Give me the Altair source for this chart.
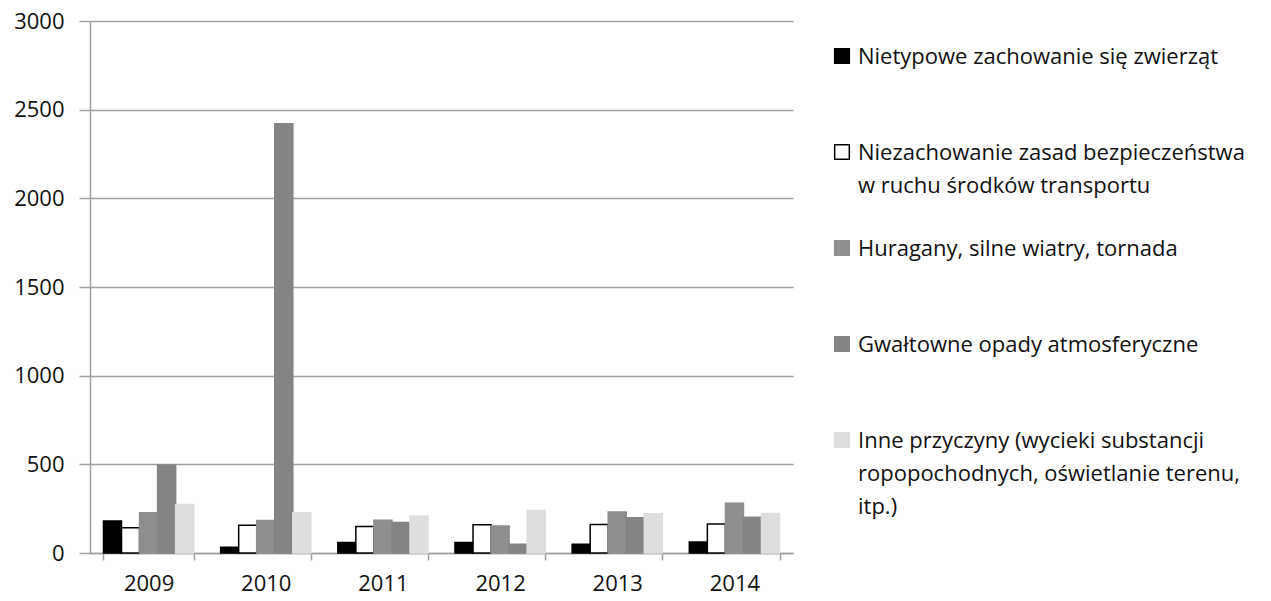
import altair as alt
import pandas as pd

years = ["2009", "2010", "2011", "2012", "2013", "2014"]
categories = [
    "Nietypowe zachowanie się zwierząt",
    "Niezachowanie zasad bezpieczeństwa w ruchu środków transportu",
    "Huragany, silne wiatry, tornada",
    "Gwałtowne opady atmosferyczne",
    "Inne przyczyny (wycieki substancji ropopochodnych, oświetlanie terenu, itp.)",
]
legend_text = [
    "Nietypowe zachowanie się zwierząt",
    "Niezachowanie zasad bezpieczeństwa|w ruchu środków transportu",
    "Huragany, silne wiatry, tornada",
    "Gwałtowne opady atmosferyczne",
    "Inne przyczyny (wycieki substancji|ropopochodnych, oświetlanie terenu,|itp.)",
]
zwierzeta = [181, 32, 59, 59, 49, 62]
transport = [143, 156, 149, 159, 161, 163]
huragany = [227, 183, 185, 152, 231, 280]
opady = [496, 2420, 172, 49, 199, 201]
inne = [273, 227, 208, 240, 222, 223]
series = [zwierzeta, transport, huragany, opady, inne]

fills = ["#000000", "#ffffff", "#8e8e8e", "#848484", "#dedede"]
strokes = ["#000000", "#000000", "#8e8e8e", "#848484", "#dedede"]

rows = []
for cat, vals in zip(categories, series):
    for yr, v in zip(years, vals):
        rows.append({"year": yr, "cat": cat, "value": v})
df = pd.DataFrame(rows)
leg_df = pd.DataFrame({"cat": categories, "label": legend_text})

FONT = "Open Sans"
GRID = "#a0a0a0"
TXT = "#111111"

color_enc = alt.Color("cat:N", sort=categories,
                      scale=alt.Scale(domain=categories, range=fills), legend=None)
stroke_enc = alt.Stroke("cat:N", sort=categories,
                        scale=alt.Scale(domain=categories, range=strokes), legend=None)

bars = alt.Chart(df).mark_bar(strokeWidth=1.5).encode(
    x=alt.X("year:N", sort=years, title=None,
            scale=alt.Scale(paddingInner=0.23, paddingOuter=0.115),
            axis=alt.Axis(labelAngle=0, tickBand="extent", tickSize=7,
                          tickColor=GRID, tickWidth=1.5, domainColor=GRID,
                          domainWidth=1.5, labelFont=FONT, labelFontSize=22,
                          labelColor=TXT, labelPadding=13, grid=False)),
    xOffset=alt.XOffset("cat:N", sort=categories,
                        scale=alt.Scale(paddingInner=0, paddingOuter=0)),
    y=alt.Y("value:Q", title=None,
            scale=alt.Scale(domain=[0, 3000], nice=False),
            axis=alt.Axis(values=[0, 500, 1000, 1500, 2000, 2500, 3000],
                          format="d",
                          grid=True, gridColor=GRID, gridWidth=1.5,
                          domainColor=GRID, domainWidth=1.5,
                          tickColor=GRID, tickWidth=1.5, tickSize=11,
                          labelPadding=15, labelFont=FONT, labelFontSize=22,
                          labelColor=TXT)),
    color=color_enc,
    stroke=stroke_enc,
).properties(width=703, height=532)

leg_y = alt.Y("cat:N", sort=categories, axis=None, title=None,
              scale=alt.Scale(type="point", padding=0.3646))

leg_sym = alt.Chart(leg_df).mark_square(size=215, strokeWidth=1.5, opacity=1).encode(
    x=alt.value(19),
    y=leg_y,
    color=color_enc,
    stroke=stroke_enc,
)
leg_txt = alt.Chart(leg_df).mark_text(
    align="left", baseline="alphabetic", dy=8, lineBreak="|", lineHeight=33,
    font=FONT, fontSize=22, color=TXT
).encode(
    x=alt.value(35),
    y=leg_y,
    text="label:N",
)
legend = alt.layer(leg_sym, leg_txt).properties(width=400, height=454)

chart = alt.hconcat(bars, legend, spacing=30, bounds="flush").properties(
    padding={"left": 5, "top": 2, "right": 0, "bottom": 0}
).configure(background="white", font=FONT).configure_view(stroke=None)

chart.save("out.html", embed_options={"renderer": "svg", "actions": False})
